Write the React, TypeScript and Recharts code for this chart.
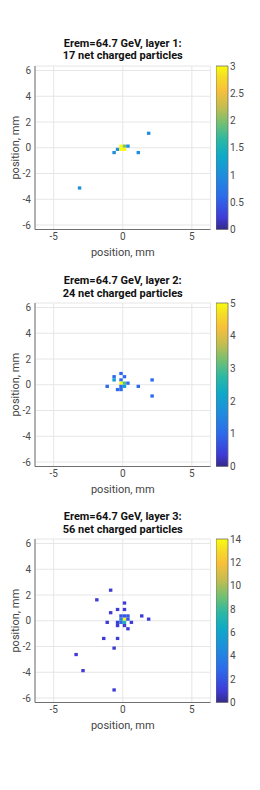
import { ScatterChart, Scatter, XAxis, YAxis, CartesianGrid, BarChart, Bar } from 'recharts'

// bin centres (mm) and counts per layer
const layer1X = [-0.125, 0.125, 0.375, -0.375, -0.125, 0.125, -0.625, 1.125, 1.875, -3.125]
const layer1Y = [0.125, 0.125, 0.125, -0.125, -0.125, -0.125, -0.375, -0.375, 1.125, -3.125]
const layer1N = [3, 2, 1, 1, 3, 3, 1, 1, 1, 1]

const layer2X = [-0.125, 0.125, -0.625, -0.125, 2.125, -1.125, 1.125, 2.125, -0.375, -0.125, -0.625, -0.125, 0.125, 0.375, 0.125, -0.125]
const layer2Y = [0.875, 0.625, 0.625, 0.375, 0.375, -0.125, -0.125, -0.875, -0.375, -0.375, 0.375, 0.125, 0.125, 0.125, -0.125, -0.125]
const layer2N = [1, 1, 1, 1, 1, 1, 1, 1, 1, 1, 2, 5, 3, 1, 2, 1]

const layer3X = [-0.875, -1.875, 0.125, -0.375, 0.125, -0.875, 1.375, 1.875, -1.125, 0.625, -0.375, -0.375, 0.125, 0.375, -1.375, -0.375, -0.625, -3.375, -2.875, -0.625, 0.125, 0.125, -0.125, -0.125, -0.125, 0.125, 0.375, 0.375]
const layer3Y = [2.375, 1.625, 1.375, 0.875, 0.875, 0.625, 0.375, 0.125, -0.125, -0.125, -0.125, -0.375, -0.375, -0.625, -1.375, -1.375, -2.125, -2.625, -3.875, -5.375, 0.125, -0.125, 0.125, -0.125, 0.375, 0.375, 0.375, 0.125]
const layer3N = [1, 1, 1, 1, 1, 1, 1, 1, 1, 1, 1, 1, 1, 1, 1, 1, 1, 1, 1, 1, 14, 7, 4, 3, 2, 2, 2, 2]

const xTicks = [-5, 0, 5]
const yTicks = [-6, -4, -2, 0, 2, 4, 6]
const cb1Ticks = [0, 0.5, 1, 1.5, 2, 2.5, 3]
const cb2Ticks = [0, 1, 2, 3, 4, 5]
const cb3Ticks = [0, 2, 4, 6, 8, 10, 12, 14]

const titleLine1 = ['Erem=64.7 GeV, layer 1:', 'Erem=64.7 GeV, layer 2:', 'Erem=64.7 GeV, layer 3:']
const titleLine2 = ['17 net charged particles', '24 net charged particles', '56 net charged particles']

const LIM = 6.35
const CELL = 0.25
const PLOT_W = 175.5
const PLOT_H = 163.5
const FONT = 'Roboto, "Liberation Sans", sans-serif'

const parulaStops: [number, number[]][] = [
  [0.0, [53, 42, 135]],
  [0.07, [62, 58, 214]],
  [0.2, [45, 106, 236]],
  [0.33, [30, 141, 222]],
  [0.45, [13, 170, 200]],
  [0.55, [43, 184, 163]],
  [0.65, [115, 192, 113]],
  [0.75, [197, 189, 79]],
  [0.85, [248, 192, 58]],
  [0.93, [246, 219, 39]],
  [1.0, [249, 251, 14]],
]

function parula(t: number) {
  const v = Math.max(0, Math.min(1, t))
  for (let i = 1; i < parulaStops.length; i++) {
    const [t1, c1] = parulaStops[i]
    const [t0, c0] = parulaStops[i - 1]
    if (v <= t1) {
      const f = (v - t0) / (t1 - t0)
      const c = c0.map((a, k) => Math.round(a + (c1[k] - a) * f))
      return `rgb(${c[0]},${c[1]},${c[2]})`
    }
  }
  return 'rgb(249,251,14)'
}

function toPoints(xs: number[], ys: number[], ns: number[]) {
  return xs.map((x, i) => ({ x, y: ys[i], n: ns[i] }))
}

function HistCell(props: any) {
  const { cx, cy, payload, max } = props
  const w = (PLOT_W / (2 * LIM)) * CELL
  const h = (PLOT_H / (2 * LIM)) * CELL
  return <rect x={cx - w / 2} y={cy - h / 2} width={w} height={h} fill={parula(payload.n / max)} />
}

function XTitle(props: any) {
  const { viewBox } = props
  return (
    <text x={viewBox.x + viewBox.width / 2} y={viewBox.y + 23} textAnchor="middle" dominantBaseline="central"
      fontSize={11} fill="#444" fontFamily={FONT}>
      position, mm
    </text>
  )
}

function YTitle(props: any) {
  const { viewBox } = props
  const cy = viewBox.y + viewBox.height / 2
  return (
    <text x={15.5} y={cy} transform={`rotate(-90 15.5 ${cy})`} textAnchor="middle" dominantBaseline="central"
      fontSize={11} fill="#444" fontFamily={FONT}>
      position, mm
    </text>
  )
}

const tickStyle = { fontSize: 10, fill: '#4a4a4a', fontFamily: FONT }
const frame = '#707070'

function Panel({ idx, top, data, max, cbTicks }: { idx: number; top: number; data: any[]; max: number; cbTicks: number[] }) {
  const gradId = `parula-${idx}`
  const stops = parulaStops.map(([t, c]) => (
    <stop key={t} offset={`${(1 - t) * 100}%`} stopColor={`rgb(${c[0]},${c[1]},${c[2]})`} />
  ))
  return (
    <div style={{ position: 'absolute', left: 0, top, width: 260, height: 270 }}>
      <div style={{
        position: 'absolute', left: 35, top: 37.75, width: PLOT_W, textAlign: 'center',
        fontFamily: FONT, fontWeight: 'bold', fontSize: 11, lineHeight: '12.5px', color: '#111',
        whiteSpace: 'nowrap',
      }}>
        {titleLine1[idx]}<br />{titleLine2[idx]}
      </div>
      <div style={{ position: 'absolute', left: 0, top: 0 }}>
        <ScatterChart width={260} height={270} margin={{ top: 66, right: 49.5, bottom: 0, left: 0 }}>
          <CartesianGrid stroke="#e6e6e6" />
          <XAxis type="number" dataKey="x" domain={[-LIM, LIM]} ticks={xTicks} allowDataOverflow
            height={40.5} tickSize={0} tickMargin={3} tick={tickStyle} stroke={frame} label={<XTitle />} />
          <YAxis type="number" dataKey="y" domain={[-LIM, LIM]} ticks={yTicks} allowDataOverflow
            width={35} tickSize={0} tickMargin={4} tick={tickStyle} stroke={frame} label={<YTitle />} />
          <XAxis xAxisId="top" orientation="top" type="number" domain={[-LIM, LIM]} ticks={xTicks}
            height={0} tick={false} tickLine={false} stroke={frame} />
          <YAxis yAxisId="right" orientation="right" type="number" domain={[-LIM, LIM]} ticks={yTicks}
            width={0} tick={false} tickLine={false} stroke={frame} />
          <Scatter data={data} isAnimationActive={false} shape={(p: any) => <HistCell {...p} max={max} />} />
        </ScatterChart>
      </div>
      <div style={{ position: 'absolute', left: 216, top: 0 }}>
        <BarChart width={44} height={270} data={[{ name: 'cb', v: max }]} barCategoryGap={0}
          margin={{ top: 66, right: 2.3, bottom: 40.5, left: 0 }}>
          <defs>
            <linearGradient id={gradId} x1="0" y1="0" x2="0" y2="1">
              {stops.reverse()}
            </linearGradient>
          </defs>
          <XAxis dataKey="name" hide />
          <YAxis orientation="right" type="number" domain={[0, max]} ticks={cbTicks} interval={0}
            width={30} axisLine={false} tickLine={false} tickSize={0} tickMargin={2.3} tick={tickStyle} />
          <Bar dataKey="v" fill={`url(#${gradId})`} stroke={frame} strokeWidth={0.8} isAnimationActive={false} />
        </BarChart>
      </div>
    </div>
  )
}

export default function App() {
  return (
    <div style={{ position: 'absolute', left: 0, top: 0, width: 260, height: 790, background: '#fff' }}>
      <Panel idx={0} top={0} data={toPoints(layer1X, layer1Y, layer1N)} max={3} cbTicks={cb1Ticks} />
      <Panel idx={1} top={237.3} data={toPoints(layer2X, layer2Y, layer2N)} max={5} cbTicks={cb2Ticks} />
      <Panel idx={2} top={473.3} data={toPoints(layer3X, layer3Y, layer3N)} max={14} cbTicks={cb3Ticks} />
    </div>
  )
}
